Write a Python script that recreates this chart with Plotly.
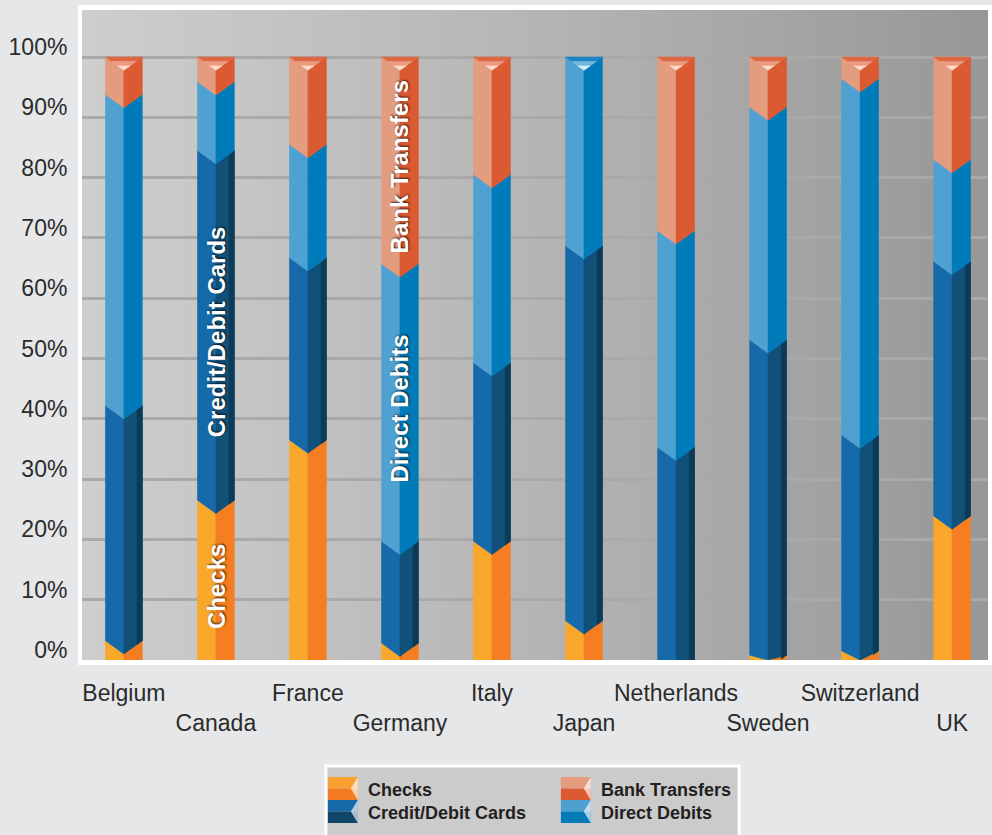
import base64
import plotly.graph_objects as go

# ---------------- data ----------------
countries = ["Belgium", "Canada", "France", "Germany", "Italy",
             "Japan", "Netherlands", "Sweden", "Switzerland", "UK"]
checks = [3.2, 26.5, 36.5, 2.8, 19.7, 6.5, 0.0, 0.8, 1.5, 23.9]
cards = [39.0, 58.0, 30.2, 16.9, 29.6, 62.2, 35.3, 52.3, 35.8, 42.2]
direct_debits = [51.6, 11.4, 18.8, 46.0, 31.2, 31.3, 35.9, 38.6, 59.1, 16.9]
bank_transfers = [6.2, 4.1, 14.5, 34.3, 19.5, 0.0, 28.8, 8.3, 3.6, 17.0]
y_ticks = [0, 10, 20, 30, 40, 50, 60, 70, 80, 90, 100]

series = [
    ("Checks", checks, "#f9a82c", "#f47e21"),
    ("Credit/Debit Cards", cards, "#166aa9", "#115078"),
    ("Direct Debits", direct_debits, "#4fa1d1", "#007bb9"),
    ("Bank Transfers", bank_transfers, "#e39c7e", "#db5a32"),
]

W = 0.2      # half bar width (x units)
D = 2.2      # chevron depth (y units)

def boundary(x, i, b):
    return max(0.0, b - D * (1 - abs(x - i) / W))

def quad(xa, xb, i, b0, b1):
    return ([xa, xb, xb, xa, xa, None],
            [boundary(xa, i, b0), boundary(xb, i, b0),
             boundary(xb, i, b1), boundary(xa, i, b1),
             boundary(xa, i, b0), None])

fig = go.Figure()

cum = [0.0] * len(countries)
top_series = [None] * len(countries)
for name, vals, cl, cr in series:
    faces = {"L": ([], []), "R": ([], []), "S": ([], [])}
    for i, v in enumerate(vals):
        if v <= 0:
            continue
        b0, b1 = cum[i], cum[i] + v
        for key, xa, xb in (("L", i - W, i), ("R", i, i + W),
                            ("S", i + 0.72 * W, i + W)):
            if key == "S" and name != "Credit/Debit Cards":
                continue
            xs, ys = quad(xa, xb, i, b0, b1)
            faces[key][0].extend(xs)
            faces[key][1].extend(ys)
        cum[i] = b1
        top_series[i] = name
    for key, col in (("L", cl), ("R", cr), ("S", "#0c3b57")):
        xs, ys = faces[key]
        if not xs:
            continue
        fig.add_trace(go.Scatter(
            x=xs, y=ys, mode="lines", fill="toself", fillcolor=col,
            line=dict(color=col, width=0.6), hoverinfo="skip",
            showlegend=False, name=name))

# top faces of each column
top_colors = {
    "Bank Transfers": ["#df6743", "#ee9c7f", "#fbdccd"],
    "Direct Debits": ["#1b84c4", "#72b6df", "#d5ecf8"],
}
top_value = 100.0
for sname, cols in top_colors.items():
    for j, col in enumerate(cols):
        xs, ys = [], []
        t0, t1 = j / 3, (j + 1) / 3
        for i, ts in enumerate(top_series):
            if ts != sname:
                continue
            xs += [i - W * (1 - t0), i + W * (1 - t0), i + W * (1 - t1),
                   i - W * (1 - t1), i - W * (1 - t0), None]
            ys += [top_value - D * t0, top_value - D * t0, top_value - D * t1,
                   top_value - D * t1, top_value - D * t0, None]
        if xs:
            fig.add_trace(go.Scatter(
                x=xs, y=ys, mode="lines", fill="toself", fillcolor=col,
                line=dict(color=col, width=0.5), hoverinfo="skip",
                showlegend=False))

# in-bar labels (Canada and Germany)
def seg_mid(idx, k):
    base = sum(series[m][1][idx] for m in range(k))
    return base + series[k][1][idx] / 2 - 1

bar_labels = [(1, 0), (1, 1), (3, 2), (3, 3)]
annotations = []
for idx, k in bar_labels:
    annotations.append(dict(
        x=idx, y=seg_mid(idx, k), xref="x", yref="y", text=series[k][0],
        textangle=-90, showarrow=False,
        font=dict(family="Liberation Sans", size=24, color="white",
                  weight="bold", shadow="1px 1px 2px rgba(0,0,0,0.7)")))

# ---------------- layout helpers ----------------
L, R, T, B = 82, 992, 10, 660
def px(x):
    return (x - L) / (R - L)
def py(y):
    return (B - y) / (B - T)

svg = ('<svg xmlns="http://www.w3.org/2000/svg" width="910" height="650" '
       'viewBox="0 0 910 650" preserveAspectRatio="none"><defs>'
       '<linearGradient id="g" x1="0" y1="0" x2="1" y2="0">'
       '<stop offset="0" stop-color="#cececd"/>'
       '<stop offset="0.5" stop-color="#b5b5b5"/>'
       '<stop offset="1" stop-color="#979797"/></linearGradient></defs>'
       '<rect width="910" height="650" fill="url(#g)"/></svg>')
svg_uri = "data:image/svg+xml;base64," + base64.b64encode(svg.encode()).decode()

shapes = [dict(type="rect", xref="paper", yref="paper",
               x0=px(327), x1=px(742), y0=py(850), y1=py(766),
               line=dict(color="white", width=3), fillcolor="#cbcbcb",
               layer="above")]

legend_items = [
    ("Checks", "#f9a030", "#f47b20", 329, 777),
    ("Credit/Debit Cards", "#166aa9", "#0f4566", 329, 800),
    ("Bank Transfers", "#e39c7f", "#db5a32", 563, 777),
    ("Direct Debits", "#4da0d0", "#007bb8", 563, 800),
]
for name, c1, c2, x0, y0 in legend_items:
    x1, ym, y1 = x0 + 30, y0 + 11.5, y0 + 23
    shapes.append(dict(type="rect", xref="paper", yref="paper",
                       x0=px(x0), x1=px(x1), y0=py(ym), y1=py(y0),
                       line=dict(width=0), fillcolor=c1, layer="above"))
    shapes.append(dict(type="rect", xref="paper", yref="paper",
                       x0=px(x0), x1=px(x1), y0=py(y1), y1=py(ym),
                       line=dict(width=0), fillcolor=c2, layer="above"))
    shapes.append(dict(type="path", xref="paper", yref="paper",
                       path=f"M {px(x1)},{py(y0)} L {px(x1)},{py(y1)} "
                            f"L {px(x1 - 7)},{py(ym)} Z",
                       line=dict(width=0), fillcolor="rgba(255,255,255,0.65)",
                       layer="above"))
    annotations.append(dict(
        x=px(x1 + 8), y=py(ym + 1), xref="paper", yref="paper", text=name,
        showarrow=False, xanchor="left", yanchor="middle",
        font=dict(family="Liberation Sans", size=18, color="#231f20",
                  weight="bold")))

ticktext = [c if k % 2 == 0 else "<br>" + c for k, c in enumerate(countries)]

fig.update_layout(
    width=992, height=835,
    margin=dict(l=L, r=992 - R, t=T, b=835 - B, pad=0),
    paper_bgcolor="#e6e7e9",
    plot_bgcolor="#b5b5b5",
    showlegend=False,
    font=dict(family="Liberation Sans", color="#2b2b2b"),
    images=[dict(source=svg_uri, xref="paper", yref="paper", x=0, y=1,
                 sizex=1, sizey=1, sizing="stretch", layer="below",
                 xanchor="left", yanchor="top")],
    shapes=shapes,
    annotations=annotations,
    xaxis=dict(range=[-0.455, 9.39], tickvals=list(range(len(countries))),
               ticktext=ticktext, showgrid=False, zeroline=False,
               showline=True, linecolor="white", linewidth=5, mirror=True,
               ticks="", tickangle=0, tickfont=dict(size=23, color="#2b2b2b"),
               ticklabelstandoff=8, fixedrange=True),
    yaxis=dict(range=[0, 107.8], tickvals=y_ticks,
               ticktext=[f"{t}%" for t in y_ticks],
               showgrid=True, gridcolor="#a9a9a9", gridwidth=3,
               zeroline=False, showline=True, linecolor="white",
               linewidth=4, mirror=True, ticks="",
               tickfont=dict(size=23, color="#2b2b2b"),
               ticklabelstandoff=6, ticklabelshift=-10, fixedrange=True),
)

fig.write_html("out.html")
